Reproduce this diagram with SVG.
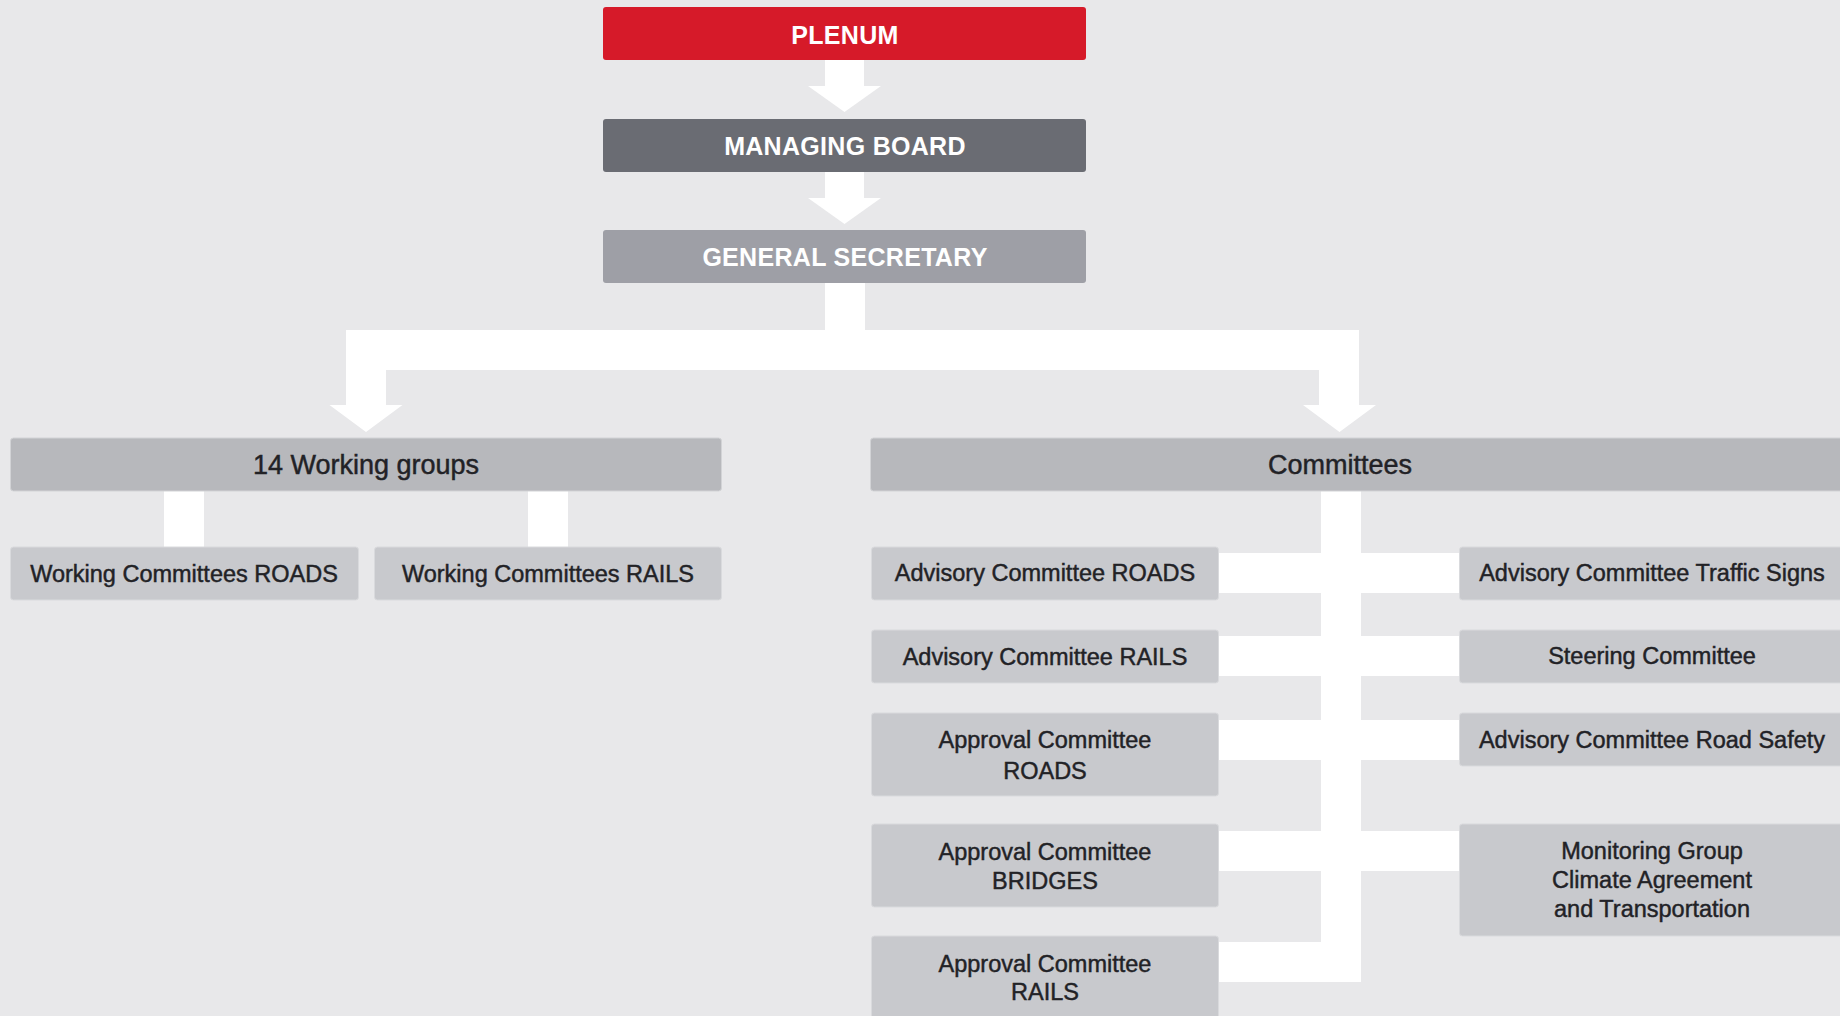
<svg xmlns="http://www.w3.org/2000/svg" width="1840" height="1016" viewBox="0 0 1840 1016">
<style>
.hd{font-family:"Liberation Sans",Arial,sans-serif;font-weight:bold;font-size:25px;fill:#ffffff;text-anchor:middle;letter-spacing:0.3px}
.tx{font-family:"Liberation Sans",Arial,sans-serif;font-size:23.5px;fill:#222226;stroke:#222226;stroke-width:0.45px;text-anchor:middle}
.t2{font-size:27px}
.l2{fill:#b7b8bc;stroke:#d2d3d6;stroke-width:1}
.l3{fill:#c8c9cd;stroke:#d9dadd;stroke-width:1}
.cn{fill:#ffffff}
</style>
<rect x="0" y="0" width="1840" height="1016" fill="#e8e8ea"/>
<g id="connectors">
  <polygon class="cn" points="825,60 864,60 864,86 881,86 844.5,112 808,86 825,86"/>
  <polygon class="cn" points="825,172 864,172 864,198 881,198 844.5,224 808,198 825,198"/>
  <polygon class="cn" points="825,283 865,283 865,330 1359,330 1359,405 1376,405 1339.5,432 1303,405 1319,405 1319,370 386,370 386,405 402.5,405 366,432 329.5,405 346,405 346,330 825,330"/>
  <rect class="cn" x="164" y="490" width="40" height="57"/>
  <rect class="cn" x="528" y="490" width="40" height="57"/>
  <rect class="cn" x="1321" y="490" width="40" height="492"/>
  <rect class="cn" x="1218" y="553" width="242" height="40"/>
  <rect class="cn" x="1218" y="636" width="242" height="40"/>
  <rect class="cn" x="1218" y="720" width="242" height="40"/>
  <rect class="cn" x="1218" y="831" width="242" height="40"/>
  <rect class="cn" x="1218" y="942" width="143" height="40"/>
</g>
<g id="plenum">
  <rect x="603" y="7" width="483" height="53" rx="3" fill="#d61a29"/>
  <text class="hd" x="845" y="44">PLENUM</text>
</g>
<g id="managing-board">
  <rect x="603" y="119" width="483" height="53" rx="3" fill="#6a6c73"/>
  <text class="hd" x="845" y="155">MANAGING BOARD</text>
</g>
<g id="general-secretary">
  <rect x="603" y="230" width="483" height="53" rx="3" fill="#9e9fa6"/>
  <text class="hd" x="845" y="266">GENERAL SECRETARY</text>
</g>
<g id="working-groups">
  <rect class="l2" x="10.5" y="438" width="711" height="53" rx="3"/>
  <text class="tx t2" x="366" y="473.5">14 Working groups</text>
</g>
<g id="committees">
  <rect class="l2" x="870.5" y="438" width="990" height="53" rx="3"/>
  <text class="tx t2" x="1340" y="473.5">Committees</text>
</g>
<g id="wc-roads">
  <rect class="l3" x="10.5" y="547" width="348" height="53" rx="3"/>
  <text class="tx" x="184" y="582">Working Committees ROADS</text>
</g>
<g id="wc-rails">
  <rect class="l3" x="374.5" y="547" width="347" height="53" rx="3"/>
  <text class="tx" x="548" y="582">Working Committees RAILS</text>
</g>
<g id="ac-roads">
  <rect class="l3" x="871.5" y="547" width="347" height="53" rx="3"/>
  <text class="tx" x="1045" y="581">Advisory Committee ROADS</text>
</g>
<g id="ac-rails">
  <rect class="l3" x="871.5" y="630" width="347" height="53" rx="3"/>
  <text class="tx" x="1045" y="665">Advisory Committee RAILS</text>
</g>
<g id="apc-roads">
  <rect class="l3" x="871.5" y="713" width="347" height="83" rx="3"/>
  <text class="tx" x="1045" y="747.5">Approval Committee</text>
  <text class="tx" x="1045" y="778.5">ROADS</text>
</g>
<g id="apc-bridges">
  <rect class="l3" x="871.5" y="824" width="347" height="83" rx="3"/>
  <text class="tx" x="1045" y="860">Approval Committee</text>
  <text class="tx" x="1045" y="889">BRIDGES</text>
</g>
<g id="apc-rails">
  <rect class="l3" x="871.5" y="936" width="347" height="100" rx="3"/>
  <text class="tx" x="1045" y="971.5">Approval Committee</text>
  <text class="tx" x="1045" y="1000">RAILS</text>
</g>
<g id="ac-traffic-signs">
  <rect class="l3" x="1459.5" y="547" width="400" height="53" rx="3"/>
  <text class="tx" x="1652" y="581">Advisory Committee Traffic Signs</text>
</g>
<g id="steering">
  <rect class="l3" x="1459.5" y="630" width="400" height="53" rx="3"/>
  <text class="tx" x="1652" y="663.5">Steering Committee</text>
</g>
<g id="ac-road-safety">
  <rect class="l3" x="1459.5" y="713" width="400" height="53" rx="3"/>
  <text class="tx" x="1652" y="747.5">Advisory Committee Road Safety</text>
</g>
<g id="monitoring">
  <rect class="l3" x="1459.5" y="824" width="400" height="112" rx="3"/>
  <text class="tx" x="1652" y="858.5">Monitoring Group</text>
  <text class="tx" x="1652" y="887.5">Climate Agreement</text>
  <text class="tx" x="1652" y="916.5">and Transportation</text>
</g>
</svg>
